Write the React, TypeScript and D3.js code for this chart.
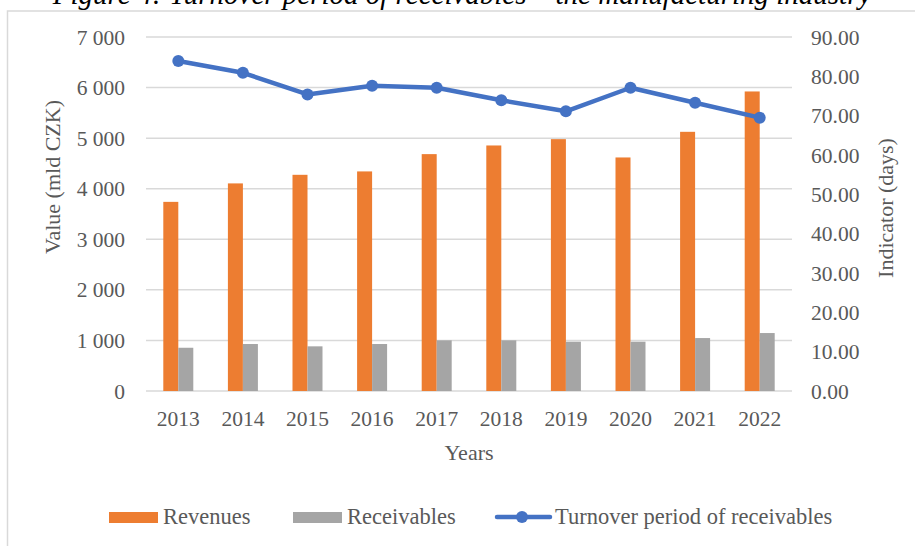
import React from "react";
import * as d3 from "d3";

const years = ["2013", "2014", "2015", "2016", "2017", "2018", "2019", "2020", "2021", "2022"];
const revenues = [3740, 4105, 4275, 4342, 4684, 4855, 4980, 4618, 5125, 5923];
const receivables = [855, 929, 883, 929, 1002, 1002, 975, 975, 1047, 1146];
const turnover = [83.9, 80.9, 75.4, 77.6, 77.1, 73.9, 71.1, 77.1, 73.3, 69.5];
const leftTicks = [0, 1000, 2000, 3000, 4000, 5000, 6000, 7000];
const rightTicks = [0, 10, 20, 30, 40, 50, 60, 70, 80, 90];
const seriesNames = ["Revenues", "Receivables", "Turnover period of receivables"];

const W = 915;
const H = 546;
const FONT = "'Liberation Serif', 'Times New Roman', serif";
const TXT = "#595959";
const ORANGE = "#ED7D31";
const GREY = "#A5A5A5";
const BLUE = "#4472C4";

export default function App() {
  const plotL = 146, plotR = 792, plotT = 37, plotB = 391;
  const x = d3.scaleBand<string>().domain(years).range([plotL, plotR]).padding(0);
  const yL = d3.scaleLinear().domain([0, 7000]).range([plotB, plotT]);
  const yR = d3.scaleLinear().domain([0, 90]).range([plotB, plotT]);
  const inner = d3.scaleBand<string>().domain(["rev", "rec"]).range([0, 30]).padding(0);
  const cx = (yr: string) => (x(yr) as number) + x.bandwidth() / 2;
  const fmtL = (v: number) => d3.format(",")(v).replace(/,/g, " ");
  const line = d3
    .line<number>()
    .x((_, i) => cx(years[i]))
    .y((d) => yR(d));

  return (
    <svg width={W} height={H} style={{ position: "absolute", left: 0, top: 0 }} fontFamily={FONT}>
      <rect x={0} y={0} width={W} height={H} fill="#fff" />
      <text x={462} y={4} textAnchor="middle" fontSize={29} fontStyle="italic" fill="#000">
        Figure 4: Turnover period of receivables – the manufacturing industry
      </text>
      <rect x={7.5} y={11} width={W + 10} height={H + 10} fill="none" stroke="#d9d9d9" strokeWidth={1.5} />
      {leftTicks.map((t) => (
        <line key={t} x1={plotL} x2={plotR} y1={yL(t)} y2={yL(t)} stroke="#d9d9d9" strokeWidth={1.5} />
      ))}
      {years.map((yr, i) => {
        const c = cx(yr) - 15;
        return (
          <g key={yr}>
            <rect x={c + (inner("rev") as number)} y={yL(revenues[i])} width={inner.bandwidth()} height={yL(0) - yL(revenues[i])} fill={ORANGE} />
            <rect x={c + (inner("rec") as number)} y={yL(receivables[i])} width={inner.bandwidth()} height={yL(0) - yL(receivables[i])} fill={GREY} />
          </g>
        );
      })}
      <path d={line(turnover) || ""} fill="none" stroke={BLUE} strokeWidth={4.5} strokeLinejoin="round" strokeLinecap="round" />
      {turnover.map((v, i) => (
        <circle key={i} cx={cx(years[i])} cy={yR(v)} r={6} fill={BLUE} />
      ))}
      {leftTicks.map((t) => (
        <text key={t} x={125} y={yL(t)} dy="0.35em" textAnchor="end" fontSize={21.5} fill={TXT}>
          {fmtL(t)}
        </text>
      ))}
      {rightTicks.map((t) => (
        <text key={t} x={811} y={yR(t)} dy="0.35em" textAnchor="start" fontSize={21.5} fill={TXT}>
          {t.toFixed(2)}
        </text>
      ))}
      {years.map((yr) => (
        <text key={yr} x={cx(yr)} y={426} textAnchor="middle" fontSize={21.5} fill={TXT}>
          {yr}
        </text>
      ))}
      <text x={(plotL + plotR) / 2} y={460} textAnchor="middle" fontSize={22} fill={TXT}>
        Years
      </text>
      <text transform="translate(60,177) rotate(-90)" textAnchor="middle" fontSize={22} fill={TXT}>
        Value (mld CZK)
      </text>
      <text transform="translate(893,208) rotate(-90)" textAnchor="middle" fontSize={22} fill={TXT}>
        Indicator (days)
      </text>
      <g>
        <rect x={109} y={512} width={49} height={11} fill={ORANGE} />
        <text x={163} y={524} fontSize={22.5} fill={TXT}>{seriesNames[0]}</text>
        <rect x={293} y={512} width={49} height={11} fill={GREY} />
        <text x={347} y={524} fontSize={22.5} fill={TXT}>{seriesNames[1]}</text>
        <line x1={497} x2={550} y1={517} y2={517} stroke={BLUE} strokeWidth={4.5} strokeLinecap="round" />
        <circle cx={522} cy={517} r={6} fill={BLUE} />
        <text x={555} y={524} fontSize={22.5} fill={TXT}>{seriesNames[2]}</text>
      </g>
    </svg>
  );
}
